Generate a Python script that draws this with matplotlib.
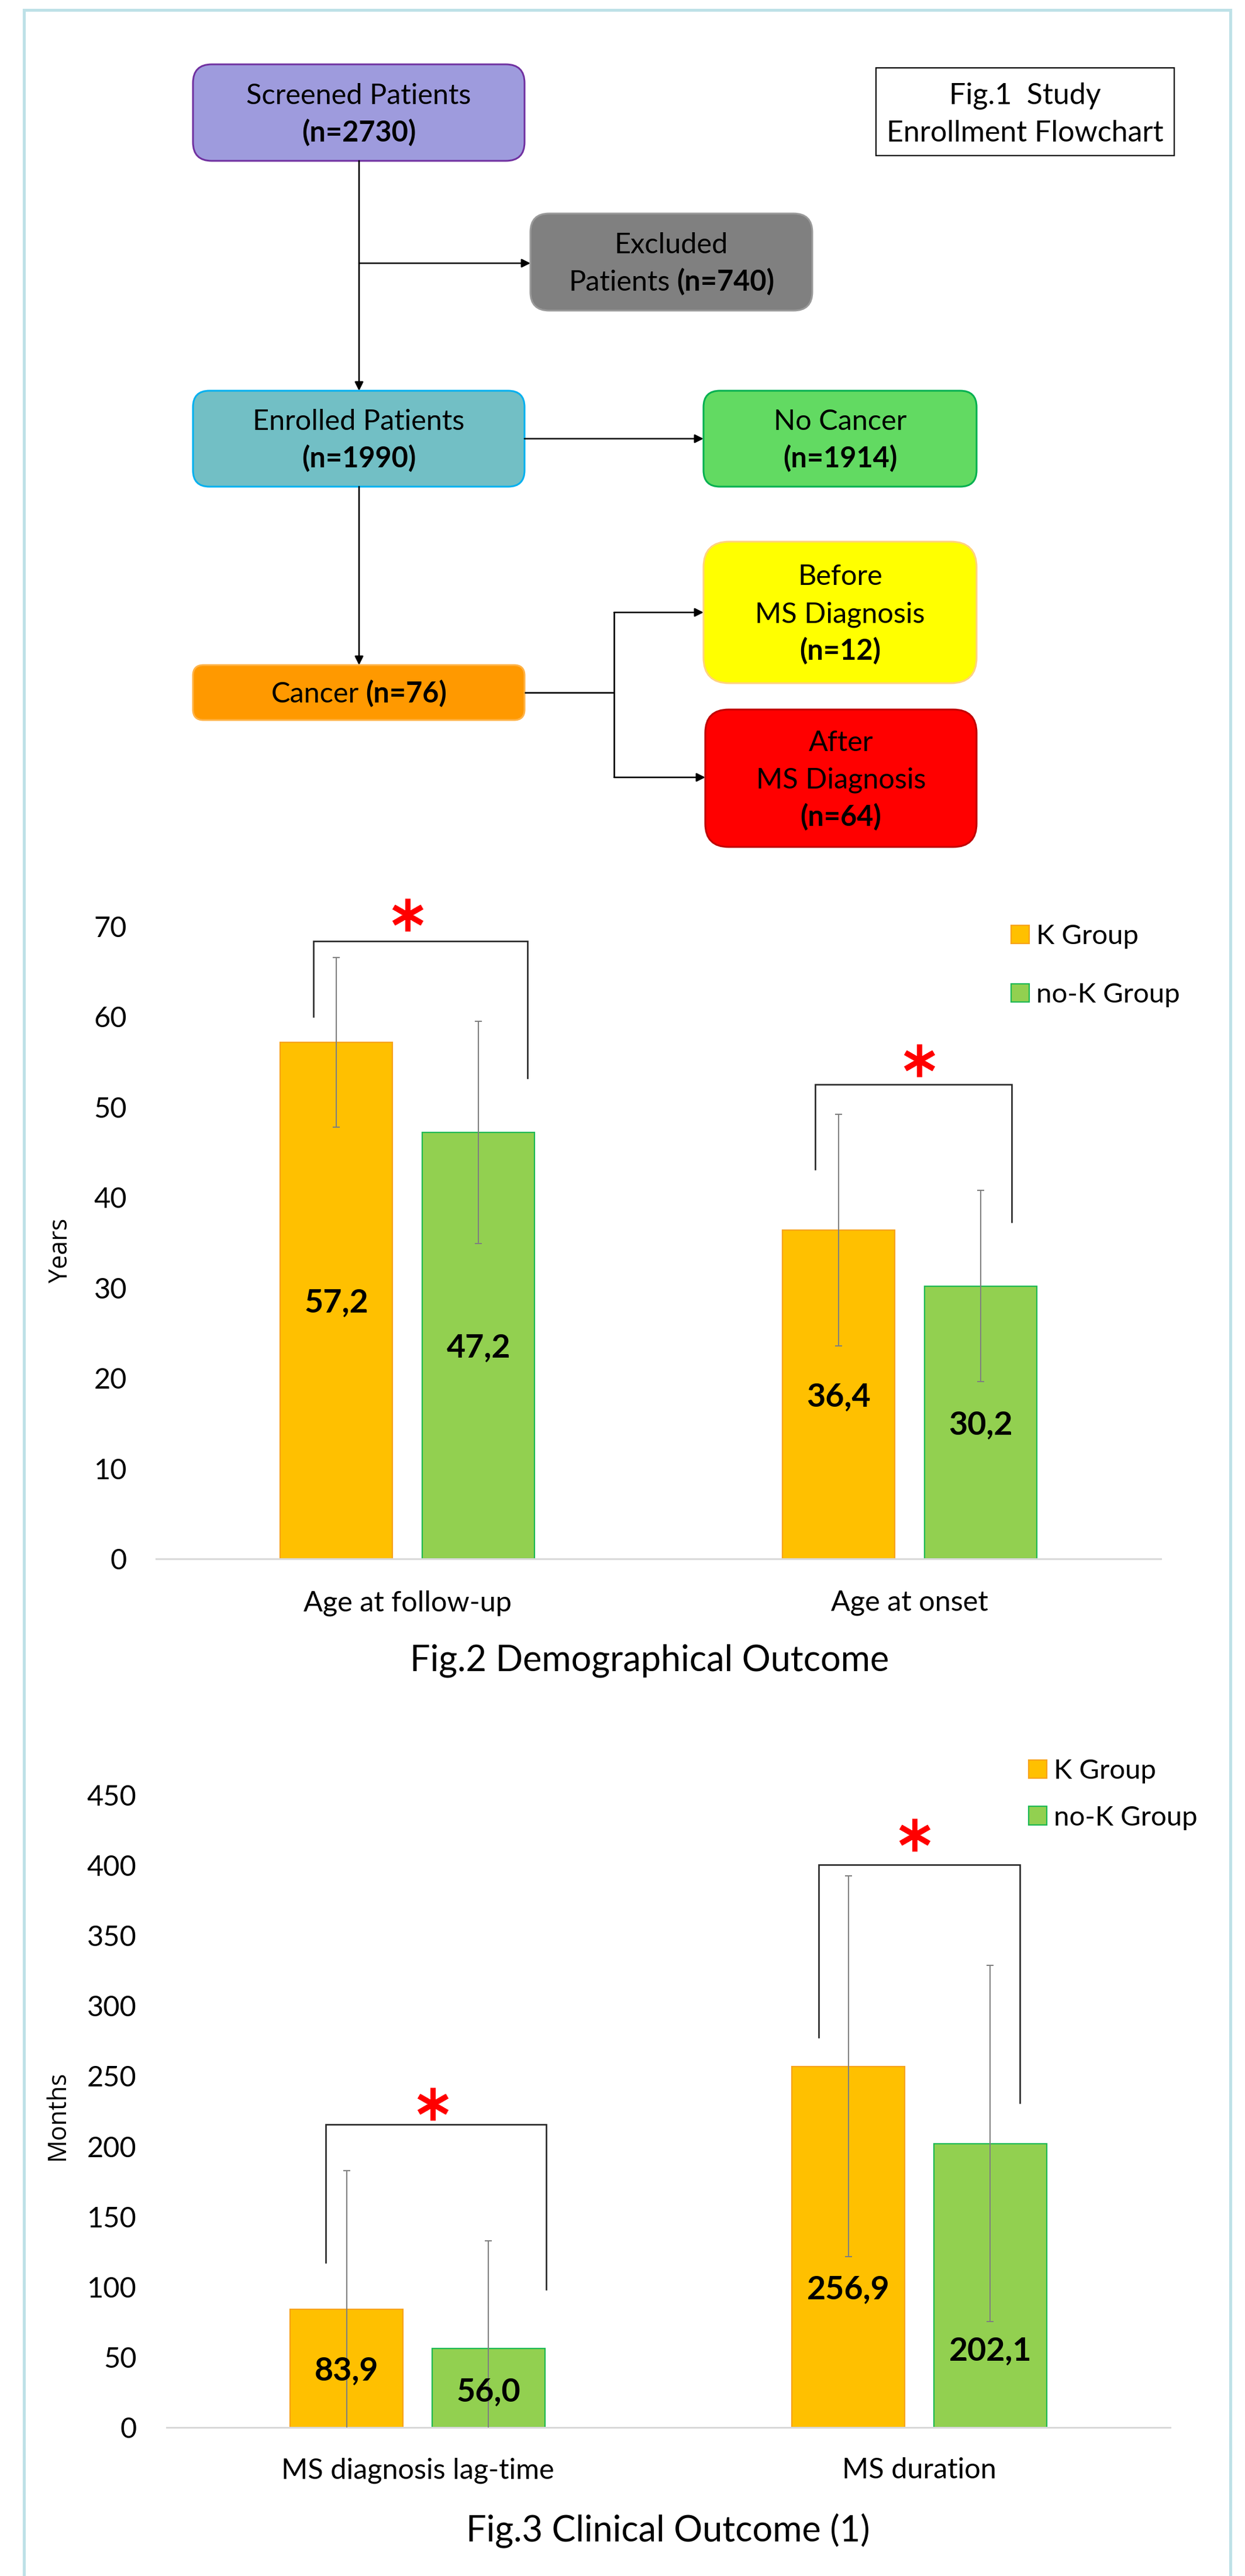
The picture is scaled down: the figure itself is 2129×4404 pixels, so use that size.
import matplotlib
matplotlib.use('Agg')
import matplotlib.pyplot as plt
from matplotlib.patches import FancyBboxPatch, Rectangle
from matplotlib.markers import MarkerStyle
import numpy as np

# ---------------------------------------------------------------- data
flow_labels = ['Screened Patients', 'Excluded\nPatients', 'Enrolled Patients', 'No Cancer',
               'Cancer', 'Before\nMS Diagnosis', 'After\nMS Diagnosis']
flow_counts = [2730, 740, 1990, 1914, 76, 12, 64]
flow_count_inline = [False, True, False, False, True, False, False]
fig1_title = ['Fig.1  Study', 'Enrollment Flowchart']

series_names = ['K Group', 'no-K Group']

fig2_categories = ['Age at follow-up', 'Age at onset']
fig2_k = [57.2, 36.4]
fig2_nok = [47.2, 30.2]
fig2_k_sd = [9.4, 12.8]
fig2_nok_sd = [12.3, 10.6]
fig2_ticks = [0, 10, 20, 30, 40, 50, 60, 70]
fig2_ylabel = 'Years'
fig2_title = 'Fig.2 Demographical Outcome'

fig3_categories = ['MS diagnosis lag-time', 'MS duration']
fig3_k = [83.9, 256.9]
fig3_nok = [56.0, 202.1]
fig3_k_sd = [98.9, 135.5]
fig3_nok_sd = [77.0, 126.9]
fig3_ticks = [0, 50, 100, 150, 200, 250, 300, 350, 400, 450]
fig3_ylabel = 'Months'
fig3_title = 'Fig.3 Clinical Outcome (1)'

# ---------------------------------------------------------------- layout / style
W, H = 2129, 4404
DPI = 100
PT = 72.0 / DPI          # points per pixel
FONT = 'Lato'
plt.rcParams['font.family'] = [FONT, 'DejaVu Sans']

K_FILL, K_EDGE = '#FFC000', '#F7A21B'
N_FILL, N_EDGE = '#92D050', '#1DB954'
ERR_C = '#7F7F7F'
BRACKET_C = '#262626'

fig = plt.figure(figsize=(W / DPI, H / DPI), dpi=DPI)
fx = fig.add_axes([0, 0, 1, 1], zorder=0)
fx.set_xlim(0, W)
fx.set_ylim(H, 0)
fx.axis('off')
renderer = fig.canvas.get_renderer()

# outer light-blue frame (open at the bottom)
fx.plot([41, 41, 2104, 2104], [H + 20, 17, 17, H + 20], color='#BEE1E7',
        lw=5 * PT, solid_joinstyle='miter', clip_on=False)

# ---------------------------------------------------------------- flowchart
boxes = [  # x0, y0, x1, y1, fill, edge, rounding
    (330, 110, 897, 275, '#9E9BDD', '#7030A0', 32),
    (907, 365, 1389, 531, '#808080', '#9A9A9A', 32),
    (330, 668, 897, 832, '#72BFC5', '#00B0F0', 28),
    (1203, 668, 1670, 832, '#62DA62', '#00B050', 28),
    (330, 1137, 897, 1231, '#FF9900', '#FFB347', 18),
    (1203, 926, 1670, 1168, '#FFFF00', '#FFD27F', 44),
    (1206, 1213, 1670, 1448, '#FF0000', '#C00000', 40),
]

FS_BOX = 35
CAP = 0.7165
LINE_SP = 64


def draw_line(cx, cy, segs, size):
    texts = []
    for t, b in segs:
        texts.append(fx.text(0, 0, t, fontsize=size, fontweight='bold' if b else 'normal',
                             ha='left', va='baseline', color='black', zorder=5))
    widths = [tx.get_window_extent(renderer).width for tx in texts]
    gap = 0.23 * size / PT
    total = sum(widths) + gap * (len(texts) - 1)
    x = cx - total / 2
    base = cy + CAP * size / PT / 2
    for tx, w in zip(texts, widths):
        tx.set_position((x, base))
        x += w + gap


for (x0, y0, x1, y1, fc, ec, r), lab, n, inline in zip(boxes, flow_labels, flow_counts, flow_count_inline):
    fx.add_patch(FancyBboxPatch((x0, y0), x1 - x0, y1 - y0,
                                boxstyle=f'round,pad=0,rounding_size={r}',
                                fc=fc, ec=ec, lw=3 * PT, zorder=3))
    lines = [[(s, False)] for s in lab.split('\n')]
    cnt = (f'(n={n})', True)
    if inline:
        lines[-1].append(cnt)
    else:
        lines.append([cnt])
    cx, cy = (x0 + x1) / 2, (y0 + y1) / 2
    nl = len(lines)
    for i, segs in enumerate(lines):
        draw_line(cx, cy + (i - (nl - 1) / 2) * LINE_SP, segs, FS_BOX)

# title box of fig.1
fx.add_patch(Rectangle((1498, 116), 510, 150, fc='white', ec='black', lw=2.2 * PT, zorder=3))
for i, t in enumerate(fig1_title):
    draw_line(1753, 192 + (i - 0.5) * 64, [(t, False)], 36)

# connectors
LW_ARR = 2.6 * PT


def arrow(p0, p1):
    fx.annotate('', xy=p1, xytext=p0,
                arrowprops=dict(arrowstyle='-|>', color='black', lw=LW_ARR,
                                mutation_scale=22, shrinkA=0, shrinkB=0), zorder=4)


def seg(xs, ys):
    fx.plot(xs, ys, color='black', lw=LW_ARR, zorder=4, solid_capstyle='butt')


arrow((614, 275), (614, 668))
arrow((614, 450), (907, 450))
arrow((897, 750), (1203, 750))
arrow((614, 832), (614, 1137))
seg([897, 1050], [1184, 1184])
seg([1050, 1050], [1047, 1329])
arrow((1050, 1047), (1203, 1047))
arrow((1050, 1329), (1206, 1329))

# ---------------------------------------------------------------- bar charts
BAR_W = 0.2245
OFF = 0.1415
LEG_FS = 34


def px_axes(left, right, top, bottom):
    return fig.add_axes([left / W, 1 - bottom / H, (right - left) / W, (bottom - top) / H], zorder=2)


def star(ax, x, y):
    ax.plot([x], [y], linestyle='none',
            marker=MarkerStyle((6, 2, 0), capstyle='round'),
            ms=40, mew=9 * PT, mec='#FF0000', clip_on=False, zorder=6)


def bracket(ax, xl, xr, yl, ytop, yr):
    ax.plot([xl, xl, xr, xr], [yl, ytop, ytop, yr], color=BRACKET_C, lw=2.6 * PT,
            clip_on=False, zorder=6, solid_joinstyle='miter')


def bar_chart(px, cats, kv, nv, ksd, nsd, ticks, ylabel, ylab_px, lbl_k, lbl_n,
              brackets, stars, leg_px, leg_spacing, xlab_pad, ytick_pad):
    left, right, top, bottom = px
    ax = px_axes(left, right, top, bottom)
    x = np.arange(len(cats))
    bk = ax.bar(x - OFF, kv, BAR_W, color=K_FILL, edgecolor=K_EDGE, linewidth=2.2 * PT, zorder=2,
                label=series_names[0])
    bn = ax.bar(x + OFF, nv, BAR_W, color=N_FILL, edgecolor=N_EDGE, linewidth=2.2 * PT, zorder=2,
                label=series_names[1])
    ax.errorbar(x - OFF, kv, yerr=ksd, fmt='none', ecolor=ERR_C, elinewidth=2 * PT,
                capsize=4.3, capthick=2 * PT, zorder=3)
    ax.errorbar(x + OFF, nv, yerr=nsd, fmt='none', ecolor=ERR_C, elinewidth=2 * PT,
                capsize=4.3, capthick=2 * PT, zorder=3)
    for xi, v, ly in zip(x - OFF, kv, lbl_k):
        ax.annotate(f'{v:.1f}'.replace('.', ','), (xi, ly), xytext=(0, -CAP * 40 / 2),
                    textcoords='offset points', ha='center', va='baseline',
                    fontsize=40, fontweight='bold', zorder=5)
    for xi, v, ly in zip(x + OFF, nv, lbl_n):
        ax.annotate(f'{v:.1f}'.replace('.', ','), (xi, ly), xytext=(0, -CAP * 40 / 2),
                    textcoords='offset points', ha='center', va='baseline',
                    fontsize=40, fontweight='bold', zorder=5)
    ax.set_xlim(-0.5, len(cats) - 0.5)
    ax.set_ylim(ticks[0], ticks[-1])
    ax.set_yticks(ticks)
    ax.set_xticks(x, cats)
    ax.tick_params(axis='both', length=0, labelsize=35, colors='black')
    ax.tick_params(axis='x', pad=xlab_pad)
    ax.tick_params(axis='y', pad=ytick_pad)
    for s in ('top', 'right', 'left'):
        ax.spines[s].set_visible(False)
    ax.spines['bottom'].set_color('#D9D9D9')
    ax.spines['bottom'].set_linewidth(3 * PT)
    ax.patch.set_alpha(0)
    ax.set_ylabel(ylabel, fontsize=31, family=['Open Sans', 'DejaVu Sans'], va='center')
    ax.yaxis.set_label_coords((ylab_px[0] - left) / (right - left),
                              1 - (ylab_px[1] - top) / (bottom - top))
    for (ci, xl, xr, yl, yt, yr) in brackets:
        bracket(ax, ci + xl, ci + xr, yl, yt, yr)
    for (ci, sx, sy) in stars:
        star(ax, ci + sx, sy)
    hl = 31 * PT / LEG_FS
    ax.legend(handles=[bk, bn], labels=series_names, loc='upper left',
              bbox_to_anchor=leg_px, bbox_transform=fx.transData, frameon=False,
              fontsize=LEG_FS, handlelength=hl, handleheight=hl, handletextpad=0.25,
              labelspacing=leg_spacing, borderpad=0, borderaxespad=0)
    return ax


# Fig.2
bar_chart((267, 1985, 1584, 2665), fig2_categories, fig2_k, fig2_nok, fig2_k_sd, fig2_nok_sd,
          fig2_ticks, fig2_ylabel, (104, 2138),
          [v / 2 for v in fig2_k], [v / 2 for v in fig2_nok],
          [(0, -0.187, 0.239, 60.0, 68.4, 53.2), (1, -0.188, 0.203, 43.1, 52.5, 37.3)],
          [(0, 0.0, 71.3), (1, 0.019, 55.2)],
          (1729, 1580), 1.23, 38.5, 36)
fx.text(1111, 2856, fig2_title, fontsize=44, ha='center', va='baseline')

# Fig.3
fig3_lbl_k = [42.0, 100.0]
fig3_lbl_n = [27.0, 56.2]
bar_chart((285, 2001, 3069, 4150), fig3_categories, fig3_k, fig3_nok, fig3_k_sd, fig3_nok_sd,
          fig3_ticks, fig3_ylabel, (99, 3616),
          fig3_lbl_k, fig3_lbl_n,
          [(0, -0.183, 0.256, 117.3, 215.5, 98.2), (1, -0.201, 0.201, 277.8, 400.6, 230.9)],
          [(0, 0.030, 230.0), (1, -0.009, 421.8)],
          (1759, 3007), 0.80, 37, 37)
fx.text(1142, 4345, fig3_title, fontsize=44, ha='center', va='baseline')

fig.savefig('out.png', dpi=DPI, facecolor='white')
